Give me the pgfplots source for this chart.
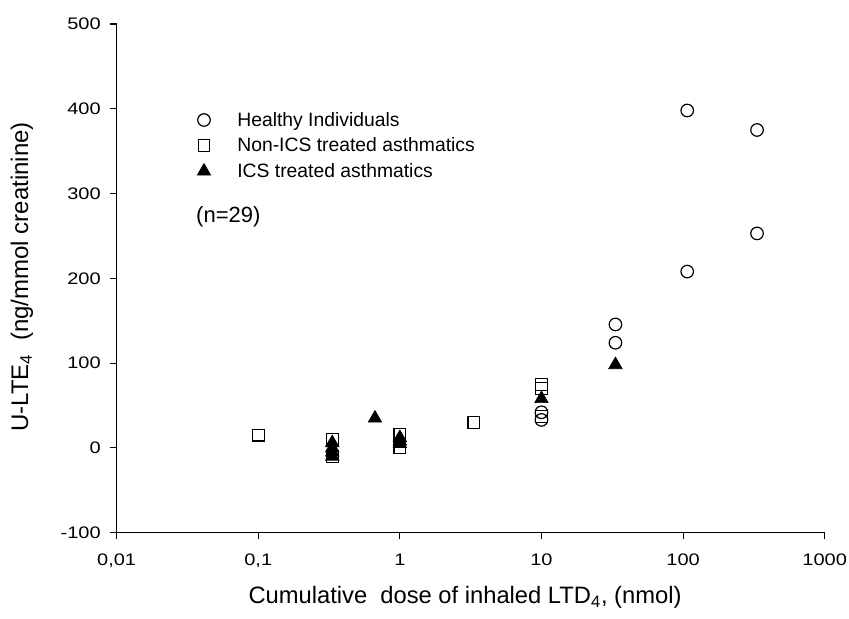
\documentclass[border=0pt]{standalone}
\usepackage{graphicx}
\usepackage{pgfplots}
\pgfplotsset{compat=1.18}
\usepackage{fontspec}
\setmainfont{Liberation Sans}
\pgfplotsset{mylegimg/.style={legend image code/.code={\path[draw=none,fill=none] (0pt,-4pt) rectangle (33pt,4pt); \draw[##1] plot coordinates {(10pt,0pt)};}}}
\newcommand{\tl}[1]{\scalebox{1.2}[1]{#1}}
\begin{document}
\begin{tikzpicture}
\path[use as bounding box] (-87.5pt,-64pt) rectangle ++(636.75pt,463.5pt);
\begin{axis}[
  at={(0,0)}, anchor=south west,
  scale only axis, width=531pt, height=381.5pt,
  xmode=log, xmin=0.01, xmax=1000, ymin=-100, ymax=500,
  axis lines=left, axis line style={-, line width=0.8pt},
  xtick={0.01,0.1,1,10,100,1000},
  xticklabels={\tl{0,01},\tl{0,1},\tl{1},\tl{10},\tl{100},\tl{1000}},
  ytick={-100,0,100,200,300,400,500},
  yticklabels={\tl{-100},\tl{0},\tl{100},\tl{200},\tl{300},\tl{400},\tl{500}},
  xminorticks=false, yminorticks=false,
  tick align=outside, major tick length=5pt,
  tick style={black, line width=0.8pt},
  ticklabel style={font=\fontsize{12.5}{15}\selectfont},
  xticklabel style={yshift=-7.5pt},
  yticklabel style={xshift=-3.5pt},
  xlabel={Cumulative\ \ dose of inhaled LTD\textsubscript{4}, (nmol)},
  ylabel={U-LTE\textsubscript{4}\ \ (ng/mmol creatinine)},
  xlabel style={font=\fontsize{17.8}{20}\selectfont, at={(axis description cs:0.492,-0.128)}, anchor=center},
  ylabel style={font=\fontsize{18}{20}\selectfont, at={(axis description cs:-0.1337,0.503)}, anchor=center},
  legend style={draw=none, fill=none, at={(axis description cs:0.0985,0.838)}, anchor=north west,
    font=\fontsize{14.5}{17}\selectfont, row sep=3.2pt, cells={anchor=west},
    nodes={inner ysep=2pt}},
  legend cell align=left,
]
\addplot[only marks, mark=o, mark size=4.7pt, mark options={line width=0.9pt, black}, mylegimg]
  coordinates {(10,42) (10,33) (33.3,145.6) (33.3,124) (107,398) (107,208) (333,375) (333,253)};
\addlegendentry{Healthy Individuals}
\addplot[only marks, mark=square, mark size=4.4pt, mark options={line width=0.9pt, black}, mylegimg]
  coordinates {(0.1,15) (0.333,10) (0.333,-10) (1,16) (1,0) (3.33,30) (10,75) (10,70) (10,37)};
\addlegendentry{Non-ICS treated asthmatics}
\addplot[only marks, mark=triangle*, mark size=5.8pt, mark options={line width=0.5pt, black, fill=black}, mylegimg]
  coordinates {(0.333,6) (0.333,0) (0.333,-5) (0.333,-10) (0.667,35) (1,12) (1,8) (1,5) (10,58) (33.3,98)};
\addlegendentry{ICS treated asthmatics}
\node[anchor=west, font=\fontsize{16.5}{19}\selectfont, inner sep=0pt] at (axis description cs:0.112,0.621) {(n=29)};
\end{axis}
\end{tikzpicture}
\end{document}
